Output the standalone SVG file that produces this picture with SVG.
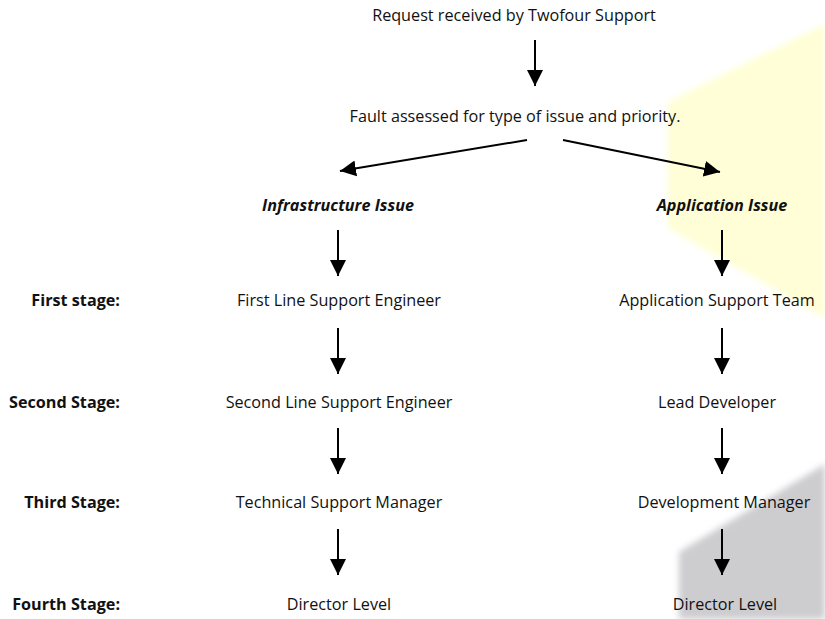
<svg xmlns="http://www.w3.org/2000/svg" width="825" height="619" viewBox="0 0 825 619">
<style>
  text { font-family: "Open Sans", "Liberation Sans", sans-serif; font-size: 16.2px; fill: #111; }
  .c { text-anchor: middle; }
  .stage { font-weight: bold; text-anchor: end; }
  .issue { font-weight: bold; font-style: italic; text-anchor: middle; }
  .conn line { stroke: #000; stroke-width: 2; marker-end: url(#ah); }
</style>
<defs>
  <marker id="ah" markerUnits="userSpaceOnUse" markerWidth="18" markerHeight="18" viewBox="0 0 18 18" refX="16" refY="9" orient="auto">
    <path d="M0,1 L16,9 L0,17 Z" fill="#000"/>
  </marker>
  <filter id="soft" x="-5%" y="-5%" width="110%" height="110%">
    <feGaussianBlur stdDeviation="3"/>
  </filter>
</defs>
<g id="backdrop">
  <polygon points="825,24 668,102 668,228 825,318" fill="#FFFED6" filter="url(#soft)"/>
  <polygon points="825,464 679,552 679,619 825,619" fill="#CDCDD0" filter="url(#soft)"/>
</g>
<g id="request"><text class="c" x="514" y="21">Request received by Twofour Support</text></g>
<g id="fault"><text class="c" x="515" y="122">Fault assessed for type of issue and priority.</text></g>
<g id="infra"><text class="issue" x="338" y="211">Infrastructure Issue</text></g>
<g id="app"><text class="issue" x="722" y="211">Application Issue</text></g>
<g id="stage1"><text class="stage" x="120" y="306">First stage:</text></g>
<g id="stage2"><text class="stage" x="120" y="408">Second Stage:</text></g>
<g id="stage3"><text class="stage" x="120" y="508">Third Stage:</text></g>
<g id="stage4"><text class="stage" x="120" y="610">Fourth Stage:</text></g>
<g id="infra1"><text class="c" x="339" y="306">First Line Support Engineer</text></g>
<g id="infra2"><text class="c" x="339" y="408">Second Line Support Engineer</text></g>
<g id="infra3"><text class="c" x="339" y="508">Technical Support Manager</text></g>
<g id="infra4"><text class="c" x="339" y="610">Director Level</text></g>
<g id="app1"><text class="c" x="717" y="306">Application Support Team</text></g>
<g id="app2"><text class="c" x="717" y="408">Lead Developer</text></g>
<g id="app3"><text class="c" x="724" y="508">Development Manager</text></g>
<g id="app4"><text class="c" x="725" y="610">Director Level</text></g>
<g class="conn" id="connectors">
  <line x1="535" y1="40" x2="535" y2="86"/>
  <line x1="527" y1="140" x2="340" y2="171"/>
  <line x1="563" y1="140" x2="720" y2="172"/>
  <line x1="338" y1="230" x2="338" y2="276"/>
  <line x1="338" y1="328" x2="338" y2="374"/>
  <line x1="338" y1="428" x2="338" y2="474"/>
  <line x1="338" y1="529" x2="338" y2="575"/>
  <line x1="722" y1="230" x2="722" y2="276"/>
  <line x1="722" y1="328" x2="722" y2="374"/>
  <line x1="722" y1="428" x2="722" y2="474"/>
  <line x1="722" y1="529" x2="722" y2="575"/>
</g>
</svg>
